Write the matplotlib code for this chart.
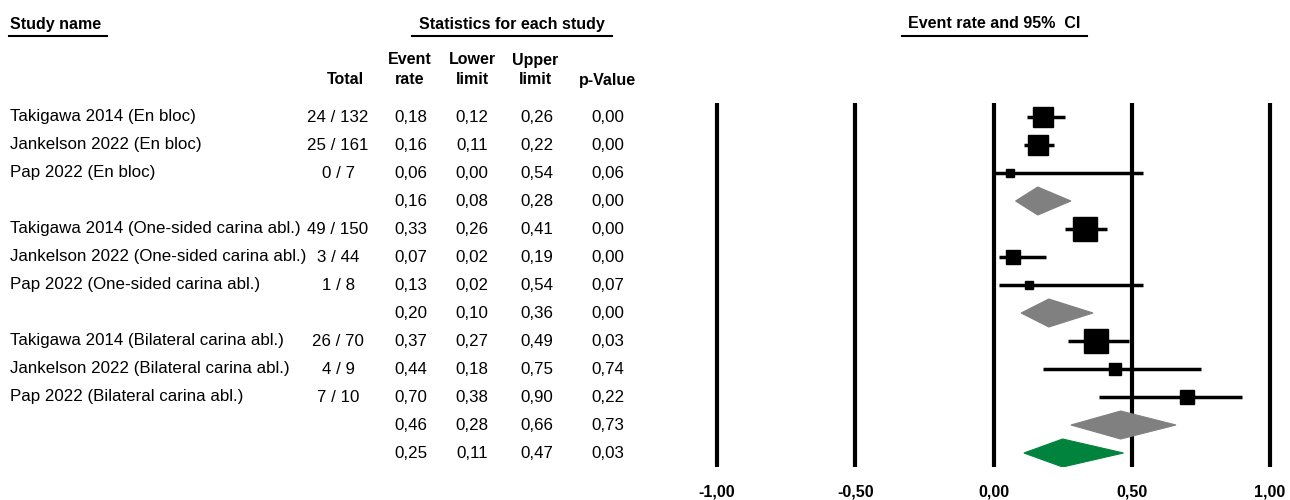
import matplotlib.pyplot as plt
from matplotlib.lines import Line2D
from matplotlib.patches import Polygon
from matplotlib.transforms import blended_transform_factory

plt.rcParams['font.family'] = ['Liberation Sans', 'DejaVu Sans']

# rows of the table / forest plot ('' name = subgroup or overall summary)
names = ['Takigawa 2014 (En bloc)', 'Jankelson 2022 (En bloc)', 'Pap 2022 (En bloc)', '',
         'Takigawa 2014 (One-sided carina abl.)', 'Jankelson 2022 (One-sided carina abl.)',
         'Pap 2022 (One-sided carina abl.)', '',
         'Takigawa 2014 (Bilateral carina abl.)', 'Jankelson 2022 (Bilateral carina abl.)',
         'Pap 2022 (Bilateral carina abl.)', '', '']
totals = ['24 / 132', '25 / 161', '0 / 7', '', '49 / 150', '3 / 44', '1 / 8', '',
          '26 / 70', '4 / 9', '7 / 10', '', '']
rate = [0.18, 0.16, 0.06, 0.16, 0.33, 0.07, 0.13, 0.20, 0.37, 0.44, 0.70, 0.46, 0.25]
lower = [0.12, 0.11, 0.00, 0.08, 0.26, 0.02, 0.02, 0.10, 0.27, 0.18, 0.38, 0.28, 0.11]
upper = [0.26, 0.22, 0.54, 0.28, 0.41, 0.19, 0.54, 0.36, 0.49, 0.75, 0.90, 0.66, 0.47]
pval = [0.00, 0.00, 0.06, 0.00, 0.00, 0.00, 0.07, 0.00, 0.03, 0.74, 0.22, 0.73, 0.03]
kind = ['study', 'study', 'study', 'sub', 'study', 'study', 'study', 'sub',
        'study', 'study', 'study', 'sub', 'overall']
weights = [44, 40, 5, None, 58, 22, 8, None, 58, 17, 20, None, None]
ticks = [-1.0, -0.5, 0.0, 0.5, 1.0]


def comma(v):
    return f'{v:.2f}'.replace('.', ',')


W, H = 1290, 500
fig = plt.figure(figsize=(W / 100, H / 100), dpi=100)

# forest axes: -1 at x=717px, 1 at x=1270px; rows 117px + 28px*i
ax = fig.add_axes([717 / W, (H - 467) / H, 553 / W, 364 / H])
ax.set_xlim(-1, 1)
ax.set_ylim(12.5, -0.5)
ax.axis('off')

ax.vlines(ticks, -0.5, 12.5, color='black', lw=3, clip_on=False)
for t in ticks:
    ax.text(t, 13.4, comma(t), ha='center', va='center', fontsize=11.5,
            fontweight='bold', clip_on=False)

for i in range(len(rate)):
    if kind[i] == 'study':
        ax.plot([lower[i], upper[i]], [i, i], color='black', lw=2.5,
                solid_capstyle='butt', zorder=3, clip_on=False)
        side = 3.15 * weights[i] ** 0.5 * 0.72
        ax.plot(rate[i], i, marker='s', ms=side, color='black', zorder=4)
    else:
        fc = '#808080' if kind[i] == 'sub' else '#00843d'
        h = 0.5
        ax.add_patch(Polygon([[lower[i], i], [rate[i], i - h], [upper[i], i],
                              [rate[i], i + h]], closed=True, fc=fc, ec=fc,
                             lw=0.8, zorder=4))

# table text
tr = blended_transform_factory(fig.transFigure, ax.transData)
fs = 12.2
for i in range(len(rate)):
    ax.text(10 / W, i, names[i], transform=tr, ha='left', va='center', fontsize=fs)
    ax.text(338 / W, i, totals[i], transform=tr, ha='center', va='center', fontsize=fs)
    ax.text(411 / W, i, comma(rate[i]), transform=tr, ha='center', va='center', fontsize=fs)
    ax.text(472 / W, i, comma(lower[i]), transform=tr, ha='center', va='center', fontsize=fs)
    ax.text(537 / W, i, comma(upper[i]), transform=tr, ha='center', va='center', fontsize=fs)
    ax.text(608 / W, i, comma(pval[i]), transform=tr, ha='center', va='center', fontsize=fs)


def ftext(x, y, s, ha='center'):
    fig.text(x / W, 1 - y / H, s, ha=ha, va='center', fontsize=11.5,
             fontweight='bold')


def uline(x0, x1, y):
    fig.add_artist(Line2D([x0 / W, x1 / W], [1 - y / H, 1 - y / H],
                          color='black', lw=1.5))


ftext(10, 24, 'Study name', ha='left')
uline(9, 107, 36)
ftext(512, 24, 'Statistics for each study')
uline(412, 612, 36)
ftext(994, 24, 'Event rate and 95%  CI')
uline(902, 1087, 36)

ftext(410, 60, 'Event')
ftext(472, 60, 'Lower')
ftext(535, 60, 'Upper')
ftext(345, 80, 'Total')
ftext(410, 80, 'rate')
ftext(472, 80, 'limit')
ftext(535, 80, 'limit')
ftext(607, 80, 'p-Value')

fig.savefig('out.png', dpi=100)
